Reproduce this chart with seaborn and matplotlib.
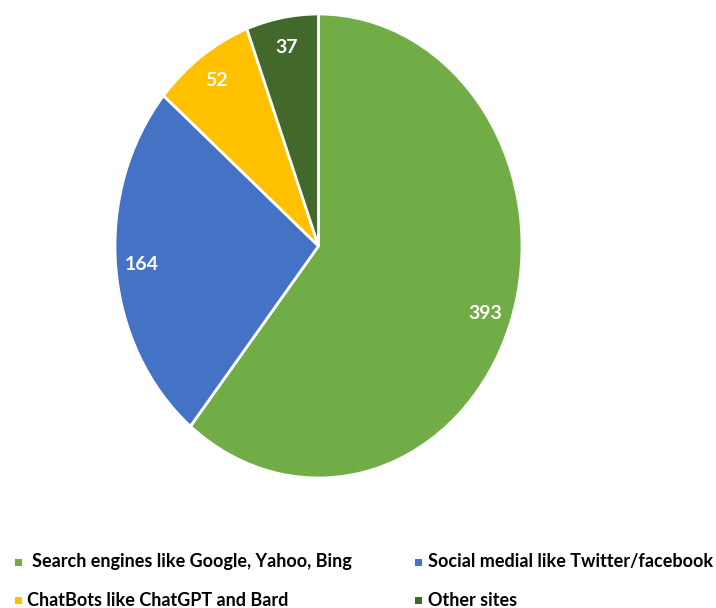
import matplotlib
matplotlib.use("Agg")
import matplotlib.pyplot as plt
import seaborn as sns
from matplotlib.patches import Rectangle

categorias = ["Search engines like Google, Yahoo, Bing",
              "Social medial like Twitter/facebook",
              "ChatBots like ChatGPT and Bard",
              "Other sites"]
valores = [393, 164, 52, 37]
colores = ["#70AD47", "#4472C4", "#FFC000", "#43682B"]

sns.set_theme(style="white")
plt.rcParams["font.family"] = ["Lato", "DejaVu Sans"]

paleta = sns.color_palette(colores)

W, H = 716, 608
fig = plt.figure(figsize=(W / 100, H / 100), dpi=100)
ax = fig.add_axes([115 / W, 130 / H, 407 / W, 464 / H])

cunas, textos = ax.pie(valores, labels=[str(v) for v in valores], colors=paleta,
                       startangle=90, counterclock=False, labeldistance=0.87,
                       wedgeprops={"edgecolor": "white", "linewidth": 2},
                       textprops={"color": "white", "fontweight": "bold", "fontsize": 14})
for t in textos:
    t.set_ha("center")
    t.set_va("center")
ax.set_aspect("auto")
ax.set_xlim(-1, 1)
ax.set_ylim(-1, 1)
ax.axis("off")

# leyenda manual: (indice, x marcador, x texto, y)
pos_leyenda = [(0, 18, 32, 562), (1, 418, 428, 562), (2, 18, 27, 600), (3, 418, 428, 600)]
for i, xm, xt, y in pos_leyenda:
    fig.add_artist(Rectangle(((xm - 3.5) / W, 1 - (y + 3.5) / H), 7 / W, 7 / H,
                             transform=fig.transFigure, facecolor=paleta[i], edgecolor="none"))
    fig.text(xt / W, 1 - y / H, categorias[i], ha="left", va="center",
             fontsize=13, fontweight="bold", color="black")

fig.savefig("out.png", dpi=100, facecolor="white")
